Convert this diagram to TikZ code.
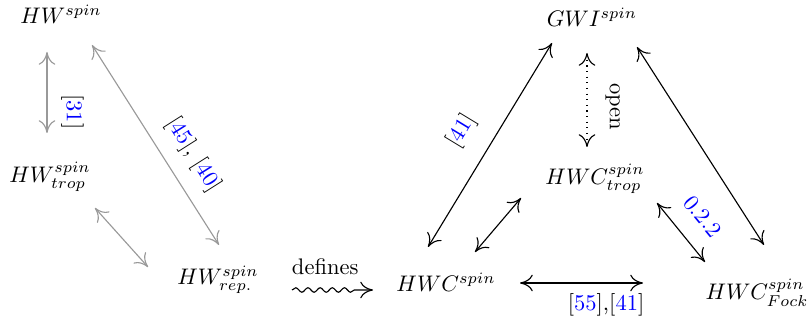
\documentclass[tikz,border=0pt]{standalone}
\usetikzlibrary{arrows.meta,decorations.pathmorphing}

\newcommand{\cit}[1]{[\textcolor{blue}{#1}]}

\begin{document}
\begin{tikzpicture}[
  x=0.444pt, y=-0.444pt,
  obj/.style={anchor=base, inner sep=0pt},
  eq/.style={{To[length=2mm,width=2.6mm]}-{To[length=2mm,width=2.6mm]}, line width=0.5pt},
  oldeq/.style={eq, draw=black!40},
  lbl/.style={inner sep=1pt, sloped},
  defarrow/.style={-{To[length=2mm,width=2.6mm]}, line width=0.5pt, decorate,
                   decoration={snake, amplitude=1pt, segment length=5.4pt, post length=2.2mm}},
]
  \useasboundingbox (0,0) rectangle (808,322);

  % left triangle
  \node[obj] (hw)     at (61,24)  {$HW^{spin}$};
  \node[obj] (hwtrop) at (50,183) {$HW^{spin}_{trop}$};
  \node[obj] (hwrep)  at (218,285) {$HW^{spin}_{rep.}$};

  % right triangle
  \node[obj] (gwi)   at (592,27)  {$GWI^{spin}$};
  \node[obj] (ctrop) at (595,185) {$HWC^{spin}_{trop}$};
  \node[obj] (hwc)   at (446,292) {$HWC^{spin}$};
  \node[obj] (fock)  at (757,300) {$HWC^{spin}_{Fock}$};

  \draw[oldeq] ([shift={(-14,28)}]hw.base) -- ([shift={(-3,-50)}]hwtrop.base)
    node[lbl, above=5.1pt, pos=0.74] {\cit{31}};
  \draw[oldeq] ([shift={(31,21)}]hw.base) -- ([shift={(1,-40)}]hwrep.base)
    node[lbl, above=5.7pt, pos=0.62] {\cit{45}, \cit{40}};
  \draw[oldeq] ([shift={(45,25)}]hwtrop.base) -- ([shift={(-70,-18)}]hwrep.base);

  \draw[defarrow] ([shift={(74,5)}]hwrep.base) -- ([shift={(-73,-2)}]hwc.base)
    node[inner sep=1pt, above=5.7pt, pos=0.41] {defines};

  \draw[eq] ([shift={(-18,-45)}]hwc.base) -- ([shift={(-40,16)}]gwi.base)
    node[lbl, above=7.7pt, pos=0.49] {\cit{41}};
  \draw[eq, dotted] ([shift={(-5,26)}]gwi.base) -- ([shift={(-8,-38)}]ctrop.base)
    node[lbl, above=7pt, pos=0.57] {open};
  \draw[eq] ([shift={(45,20)}]gwi.base) -- ([shift={(7,-55)}]fock.base);
  \draw[eq] ([shift={(29,-40)}]hwc.base) -- ([shift={(-74,13)}]ctrop.base);
  \draw[eq] ([shift={(62,18)}]ctrop.base) -- ([shift={(-52,-38)}]fock.base)
    node[lbl, above=7.4pt, pos=0.52, text=blue] {0.2.2};
  \draw[eq] ([shift={(74,-9)}]hwc.base) -- ([shift={(-114,-17)}]fock.base)
    node[inner sep=1pt, below=3.5pt, pos=0.70] {\cit{55},\cit{41}};
\end{tikzpicture}
\end{document}
